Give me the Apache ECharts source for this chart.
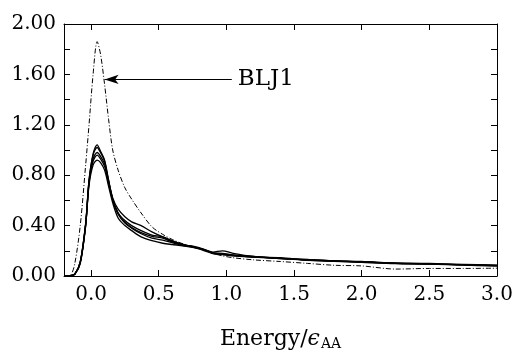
<!DOCTYPE html>
<html>
<head>
<meta charset="utf-8">
<script src="https://cdn.jsdelivr.net/npm/echarts@6/dist/echarts.min.js"></script>
<style>
  html, body { margin: 0; padding: 0; background: #fff; }
  #chart { width: 516px; height: 356px; }
</style>
</head>
<body>
<div id="chart"></div>
<script>
// energy grid (x values, in units of eps_AA)
const energy = [-0.2, -0.15, -0.12, -0.08, -0.04, -0.015, 0.015, 0.045, 0.07, 0.1,
  0.13, 0.16, 0.2, 0.25, 0.3, 0.37, 0.45, 0.53, 0.6, 0.68,
  0.76, 0.84, 0.9, 0.97, 1.05, 1.2, 1.4, 1.6, 1.8, 2.0,
  2.25, 2.5, 2.75, 3.0];

// BLJ1 (dash-dot)
const blj1 = [0, 0.01, 0.1, 0.4, 0.88, 1.2, 1.6, 1.86, 1.76, 1.52,
  1.24, 1.0, 0.84, 0.70, 0.61, 0.50, 0.39, 0.33, 0.29, 0.255,
  0.23, 0.205, 0.18, 0.16, 0.145, 0.128, 0.115, 0.10, 0.085, 0.08,
  0.055, 0.06, 0.06, 0.062];

// the solid curves
const solidA = [0, 0.003, 0.015, 0.11, 0.41, 0.76, 0.97, 1.04, 0.99, 0.92,
  0.76, 0.61, 0.50, 0.43, 0.385, 0.345, 0.315, 0.30, 0.27, 0.245,
  0.235, 0.21, 0.18, 0.175, 0.165, 0.155, 0.14, 0.13, 0.12, 0.115,
  0.10, 0.097, 0.088, 0.082];
const solidB = [0, 0.003, 0.016, 0.11, 0.42, 0.76, 0.96, 1.02, 0.98, 0.91,
  0.75, 0.61, 0.50, 0.44, 0.40, 0.36, 0.325, 0.31, 0.275, 0.25,
  0.232, 0.205, 0.185, 0.18, 0.168, 0.15, 0.145, 0.128, 0.122, 0.11,
  0.104, 0.10, 0.09, 0.085];
const solidC = [0, 0.002, 0.014, 0.10, 0.40, 0.74, 0.93, 0.98, 0.95, 0.89,
  0.75, 0.62, 0.53, 0.47, 0.43, 0.40, 0.35, 0.31, 0.28, 0.25,
  0.23, 0.21, 0.19, 0.20, 0.18, 0.155, 0.138, 0.132, 0.118, 0.112,
  0.102, 0.095, 0.09, 0.08];
const solidD = [0, 0.003, 0.015, 0.11, 0.41, 0.74, 0.91, 0.96, 0.93, 0.87,
  0.73, 0.60, 0.49, 0.42, 0.38, 0.335, 0.30, 0.285, 0.265, 0.242,
  0.228, 0.208, 0.182, 0.172, 0.162, 0.152, 0.142, 0.126, 0.118, 0.113,
  0.10, 0.096, 0.092, 0.087];
const solidE = [0, 0.002, 0.014, 0.10, 0.40, 0.72, 0.88, 0.92, 0.90, 0.84,
  0.71, 0.58, 0.46, 0.40, 0.36, 0.31, 0.28, 0.26, 0.25, 0.24,
  0.225, 0.20, 0.178, 0.17, 0.16, 0.15, 0.138, 0.125, 0.116, 0.108,
  0.098, 0.094, 0.086, 0.08];

// axis ticks
const xTicks = [0.0, 0.5, 1.0, 1.5, 2.0, 2.5, 3.0];
const yTicks = [0, 0.2, 0.4, 0.6, 0.8, 1.0, 1.2, 1.4, 1.6, 1.8, 2.0];
const yLabels = [0, 0.4, 0.8, 1.2, 1.6, 2.0];

// annotation arrow: from label end back to the BLJ1 peak
const arrowFrom = [1.04, 1.56];
const arrowTo = [0.10, 1.56];

const FONT = 'DejaVu Serif';

function pairs(ys) {
  return energy.map((e, i) => [e, ys[i]]);
}

const chart = echarts.init(document.getElementById('chart'), null, { renderer: 'canvas' });

let series = [];
[solidA, solidB, solidC, solidD, solidE].forEach((ys, k) => {
  series.push({
    name: 'run' + k,
    type: 'line',
    data: pairs(ys),
    symbol: 'none',
    smooth: 0.3,
    lineStyle: { color: '#000', width: 1.3 },
    z: 3
  });
});

series.push({
  name: 'BLJ1',
  type: 'line',
  data: pairs(blj1),
  symbol: 'none',
  smooth: 0.3,
  lineStyle: { color: '#000', width: 1, type: [5, 2, 1, 2] },
  markLine: {
    silent: true,
    symbol: ['none', 'arrow'],
    symbolSize: [7, 14],
    lineStyle: { color: '#000', width: 1, type: 'solid' },
    label: {
      show: true,
      position: 'start',
      formatter: 'BLJ1',
      fontFamily: FONT,
      fontSize: 23,
      color: '#000',
      distance: 6
    },
    data: [[{ coord: arrowFrom }, { coord: arrowTo }]]
  },
  z: 4
});

const axisLine = { show: true, onZero: false, lineStyle: { color: '#000', width: 1 } };
const tick = (vals) => ({ show: true, inside: true, length: 6, customValues: vals, lineStyle: { color: '#000' } });

chart.setOption({
  animation: false,
  backgroundColor: '#fff',
  grid: { left: 64, right: 19, top: 24, bottom: 73 },
  xAxis: [
    {
      type: 'value',
      min: -0.2,
      max: 3.0,
      axisLine: axisLine,
      axisTick: tick(xTicks),
      splitLine: { show: false },
      axisLabel: {
        customValues: xTicks,
        fontFamily: FONT,
        fontSize: 20,
        color: '#000',
        margin: 9,
        formatter: v => v.toFixed(1)
      },
      name: '{a|Energy/}{b|ϵ}{c|AA}',
      nameLocation: 'middle',
      nameGap: 51,
      nameTextStyle: {
        rich: {
          a: { fontFamily: FONT, fontSize: 22, color: '#000' },
          b: { fontFamily: FONT, fontSize: 22, color: '#000', fontStyle: 'italic' },
          c: { fontFamily: FONT, fontSize: 14, color: '#000', padding: [10, 0, 0, 1] }
        }
      }
    },
    {
      type: 'value',
      position: 'top',
      min: -0.2,
      max: 3.0,
      axisLine: axisLine,
      axisTick: tick(xTicks),
      axisLabel: { show: false },
      splitLine: { show: false }
    }
  ],
  yAxis: [
    {
      type: 'value',
      min: 0,
      max: 2.0,
      axisLine: axisLine,
      axisTick: tick(yTicks),
      splitLine: { show: false },
      axisLabel: {
        customValues: yLabels,
        fontFamily: FONT,
        fontSize: 20,
        color: '#000',
        margin: 8,
        formatter: v => v.toFixed(2)
      }
    },
    {
      type: 'value',
      position: 'right',
      min: 0,
      max: 2.0,
      axisLine: axisLine,
      axisTick: tick(yTicks),
      axisLabel: { show: false },
      splitLine: { show: false }
    }
  ],
  series: series
});
</script>
</body>
</html>
